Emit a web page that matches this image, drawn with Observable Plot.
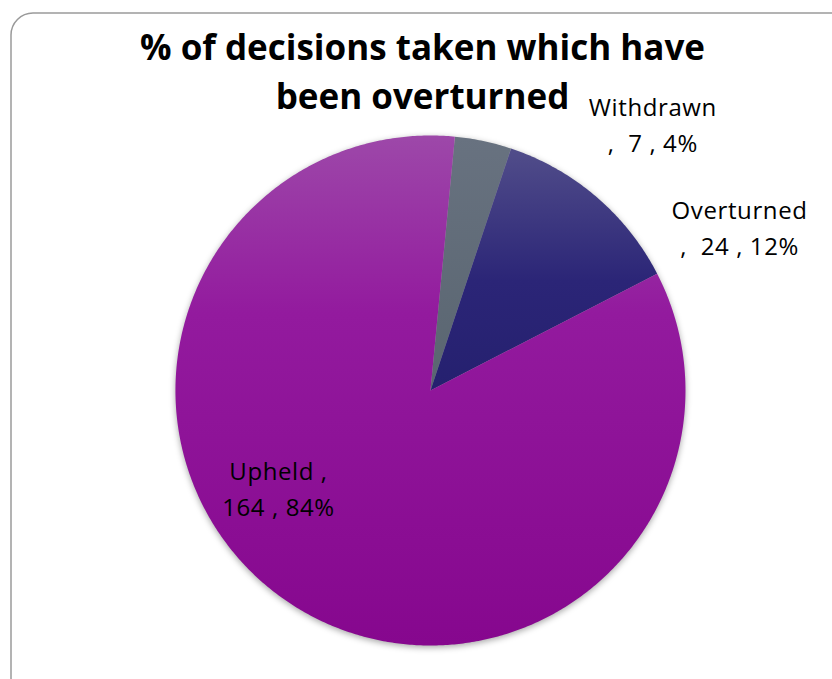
<!DOCTYPE html>
<html><head><meta charset="utf-8">
<script src="https://cdn.jsdelivr.net/npm/d3@7"></script>
<script src="https://cdn.jsdelivr.net/npm/@observablehq/plot@0.6"></script>
<style>html,body{margin:0;padding:0;background:#fff;overflow:hidden;}</style>
</head><body><div id="chart"></div>
<script>
// ---- data ----
const categories = ["Withdrawn", "Overturned", "Upheld"];
const counts = [7, 24, 164];
const titleLines = ["% of decisions taken which have", "been overturned"];
const startDeg = 5.5; // first slice angle (clockwise from 12 o'clock)

// ---- derived ----
const total = d3.sum(counts);
const rows = categories.map((c, i) => ({label: c, value: counts[i], pct: Math.round(100 * counts[i] / total)}));
const a0 = startDeg * Math.PI / 180;
const arcs = d3.pie().sort(null).value(d => d.value).startAngle(a0).endAngle(a0 + 2 * Math.PI)(rows);

const pts = [];
for (const a of arcs) {
  pts.push({label: a.data.label, x: 0, y: 0});
  const n = Math.max(2, Math.ceil((a.endAngle - a.startAngle) / (Math.PI / 360)));
  for (let k = 0; k <= n; k++) {
    const t = a.startAngle + (a.endAngle - a.startAngle) * k / n;
    pts.push({label: a.data.label, x: Math.sin(t), y: Math.cos(t)});
  }
}

// label placement (polar: angle in degrees clockwise from top, radius as fraction of pie radius)
const labelPlace = {Withdrawn: [39.7, 1.365], Overturned: [61.9, 1.374], Upheld: [237.7, 0.705]};
const labelText = d => d.label === "Upheld"
  ? `${d.label} ,\n${d.value} , ${d.pct}%`
  : `${d.label}\n,  ${d.value} , ${d.pct}%`;
const lx = d => { const [deg, r] = labelPlace[d.label]; return r * Math.sin(deg * Math.PI / 180); };
const ly = d => { const [deg, r] = labelPlace[d.label]; return r * Math.cos(deg * Math.PI / 180); };

const W = 832, H = 679;
const svg = Plot.plot({
  width: W, height: H,
  margin: 0,
  x: {domain: [-1.686, 1.5765], axis: null},
  y: {domain: [-1.1333, 1.5294], axis: null},
  color: {domain: categories, range: ["url(#gW)", "url(#gO)", "url(#gU)"]},
  style: {background: "#fff", overflow: "hidden"},
  marks: [
    Plot.frame({rx: 22, ry: 22, stroke: "#9a9a9a", strokeWidth: 1.5, insetLeft: 10.5, insetTop: 12.5, insetRight: -20, insetBottom: -20}),
    Plot.line(pts, {x: "x", y: "y", z: "label", fill: "label", stroke: "none", curve: "linear-closed"}),
    Plot.text(rows, {x: lx, y: ly, text: labelText, fontSize: 24, fill: "#000", lineHeight: 1.5, lineAnchor: "middle", textAnchor: "middle", fontFamily: "Open Sans"}),
    Plot.text([titleLines.join("\n")], {frameAnchor: "top", text: d => d, dx: 6, dy: 25, lineAnchor: "top", fontSize: 35, fontWeight: "bold", lineHeight: 1.4, fill: "#000", fontFamily: "Open Sans"})
  ]
});

const defs = d3.select(svg).insert("defs", ":first-child");
function grad(id, stops) {
  const g = defs.append("linearGradient").attr("id", id).attr("x1", 0).attr("y1", 0).attr("x2", 0).attr("y2", 1);
  for (const [o, c] of stops) g.append("stop").attr("offset", o).attr("stop-color", c);
}
grad("gW", [[0, "#687280"], [1, "#596570"]]);
grad("gO", [[0, "#514d8a"], [0.55, "#2b2577"], [1, "#25206f"]]);
grad("gU", [[0, "#9d48a9"], [0.35, "#931a9e"], [1, "#86078e"]]);
d3.select(svg).selectAll('g[aria-label="line"]').style("filter", "drop-shadow(0px 2px 3px rgba(0,0,0,0.35))");
d3.select(svg).selectAll('g[aria-label="text"]').filter((d, i) => i === 0).style("letter-spacing", "0.6px");

document.getElementById("chart").appendChild(svg);
</script>
</body></html>
